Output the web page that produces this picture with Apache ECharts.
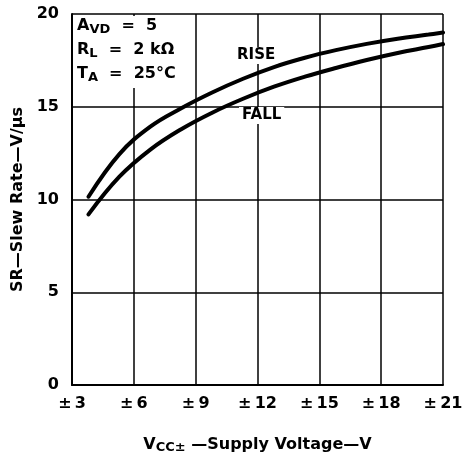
<!DOCTYPE html>
<html>
<head>
<meta charset="utf-8">
<script src="https://cdn.jsdelivr.net/npm/echarts@6/dist/echarts.min.js"></script>
<style>
  html, body { margin: 0; padding: 0; background: #fff; }
  #chart { width: 462px; height: 452px; }
</style>
</head>
<body>
<div id="chart"></div>
<script>
  // supply voltage (±V) and slew rate (V/us)
  var supply = [3.8, 5.3, 6.8, 8.3, 9.8, 11.3, 12.8, 14.3, 15.8, 17.3, 18.8, 20.3, 21];
  var riseRate = [10.15, 12.45, 13.93, 14.92, 15.77, 16.51, 17.14, 17.64, 18.05, 18.39, 18.67, 18.89, 19.0];
  var fallRate = [9.2, 11.23, 12.69, 13.79, 14.68, 15.43, 16.08, 16.62, 17.09, 17.52, 17.9, 18.22, 18.38];
  var xTicks = [3, 6, 9, 12, 15, 18, 21];
  var yTicks = [0, 5, 10, 15, 20];

  var font = 'DejaVu Sans, Arial, sans-serif';
  var myChart = echarts.init(document.getElementById('chart'));

  function pairs(xs, ys) {
    return xs.map(function (x, i) { return [x, ys[i]]; });
  }

  var option = {
    animation: false,
    grid: { left: 72, right: 19, top: 14, bottom: 67, containLabel: false, outerBoundsMode: 'none' },
    xAxis: {
      type: 'value',
      min: xTicks[0],
      max: xTicks[xTicks.length - 1],
      interval: 3,
      name: '{v|V}{s|CC\u00b1}{v| \u2014Supply Voltage\u2014V}',
      nameLocation: 'middle',
      nameGap: 50,
      nameTextStyle: {
        rich: {
          v: { fontFamily: font, fontWeight: 'bold', fontSize: 16, color: '#000' },
          s: { fontFamily: font, fontWeight: 'bold', fontSize: 13, color: '#000', padding: [6, 0, 0, 0] }
        }
      },
      axisLine: { show: true, lineStyle: { color: '#000', width: 2 } },
      axisTick: { show: false },
      splitLine: { show: true, lineStyle: { color: '#000', width: 1.5 } },
      axisLabel: {
        margin: 11,
        fontFamily: font, fontWeight: 'bold', fontSize: 16, color: '#000',
        formatter: function (v) { return '\u00b1\u2009' + v; }
      }
    },
    yAxis: {
      type: 'value',
      min: yTicks[0],
      max: yTicks[yTicks.length - 1],
      interval: 5,
      name: 'SR\u2014Slew Rate\u2014V/\u03bcs',
      nameLocation: 'middle',
      nameGap: 46,
      nameTextStyle: { fontFamily: font, fontWeight: 'bold', fontSize: 16, color: '#000' },
      axisLine: { show: true, lineStyle: { color: '#000', width: 2 } },
      axisTick: { show: false },
      splitLine: { show: true, lineStyle: { color: '#000', width: 1.5 } },
      axisLabel: { margin: 13, fontFamily: font, fontWeight: 'bold', fontSize: 16, color: '#000' }
    },
    series: [
      {
        name: 'RISE',
        type: 'line',
        smooth: 0.4,
        symbol: 'none',
        lineStyle: { color: '#000', width: 4, cap: 'round' },
        data: pairs(supply, riseRate),
        z: 5
      },
      {
        name: 'FALL',
        type: 'line',
        smooth: 0.4,
        symbol: 'none',
        lineStyle: { color: '#000', width: 4, cap: 'round' },
        data: pairs(supply, fallRate),
        z: 5
      }
    ],
    graphic: [
      { type: 'rect', z: 100, shape: { x: 74, y: 16, width: 118, height: 72 }, style: { fill: '#fff' } },
      {
        type: 'text', z: 101, left: 77, top: 16,
        style: {
          text: '{b|A}{s|VD}{b|  =  5}\n{b|R}{s|L}{b|  =  2 k\u03a9}\n{b|T}{s|A}{b|  =  25\u00b0C}',
          rich: {
            b: { fontFamily: font, fontWeight: 'bold', fontSize: 16, fill: '#000', lineHeight: 24 },
            s: { fontFamily: font, fontWeight: 'bold', fontSize: 13, fill: '#000', padding: [7, 0, 0, 0], lineHeight: 24 }
          }
        }
      },
      {
        type: 'text', z: 101, left: 235, top: 47,
        style: { text: 'RISE', fontFamily: font, fontWeight: 'bold', fontSize: 15, fill: '#000', backgroundColor: '#fff', padding: [1, 2] }
      },
      {
        type: 'text', z: 101, left: 239, top: 107,
        style: { text: 'FALL', fontFamily: font, fontWeight: 'bold', fontSize: 15, fill: '#000', backgroundColor: '#fff', padding: [1, 3] }
      }
    ]
  };
  myChart.setOption(option);
</script>
</body>
</html>
